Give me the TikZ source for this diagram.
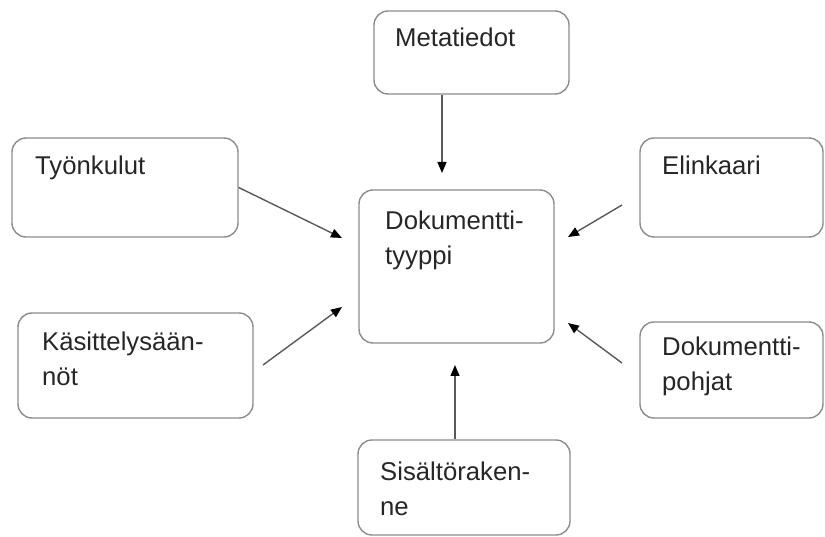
\documentclass[tikz,border=0pt]{standalone}
\usepackage{fontspec}
\setmainfont{Liberation Sans}
\usetikzlibrary{arrows.meta}

\tikzset{
  laatikko/.style={draw=black!45, line width=1.4pt, rounded corners=14pt, inner sep=0pt},
  teksti/.style={anchor=base west, inner sep=0pt, align=left, text=black!85,
    font=\fontsize{25.7}{35}\selectfont},
  nuoli/.style={draw=black!65, line width=1.4pt, -{Triangle[length=11pt,width=9pt,color=black]}}
}

\begin{document}
\begin{tikzpicture}[x=1pt, y=-1pt]
      \useasboundingbox (0,0) rectangle (825,537);
      % laatikot
      \node[laatikko, minimum width=195pt, minimum height=83pt]  (meta) at (471.5, 52.5) {};
      \node[laatikko, minimum width=226pt, minimum height=99pt]  (tyon) at (125, 187.5) {};
      \node[laatikko, minimum width=183pt, minimum height=99pt]  (elin) at (731.5, 187.5) {};
      \node[laatikko, minimum width=195pt, minimum height=153pt] (dok)  at (456.5, 266.5) {};
      \node[laatikko, minimum width=235pt, minimum height=105pt] (kas)  at (135.5, 365.5) {};
      \node[laatikko, minimum width=183pt, minimum height=96pt]  (pohj) at (731.5, 370) {};
      \node[laatikko, minimum width=212pt, minimum height=95pt]  (sis)  at (464, 487.5) {};
      % tekstit (monirivisillä base = viimeisen rivin peruslinja)
      \node[teksti] (meta-t) at (395, 47)  {Metatiedot};
      \node[teksti] (tyon-t) at (35, 175)  {Työnkulut};
      \node[teksti] (elin-t) at (662, 175) {Elinkaari};
      \node[teksti] (dok-t)  at (385, 265) {Dokumentti-\\tyyppi};
      \node[teksti] (kas-t)  at (42, 385)  {Käsittelysään-\\nöt};
      \node[teksti] (pohj-t) at (662, 390) {Dokumentti-\\pohjat};
      \node[teksti] (sis-t)  at (380, 515) {Sisältöraken-\\ne};
      % nuolet
      \coordinate (n-m) at (442, 173);
      \coordinate (n-t) at (342, 238);
      \coordinate (e0)  at (622, 205);
      \coordinate (n-e) at (568, 237);
      \coordinate (k0)  at (263, 365);
      \coordinate (n-k) at (342, 307);
      \coordinate (p0)  at (622, 363);
      \coordinate (n-p) at (568, 323);
      \coordinate (n-s) at (455, 365);
      \draw[nuoli] (meta.south -| n-m) -- (n-m);
      \draw[nuoli] (tyon.east) -- (n-t);
      \draw[nuoli] (e0) -- (n-e);
      \draw[nuoli] (k0) -- (n-k);
      \draw[nuoli] (p0) -- (n-p);
      \draw[nuoli] (sis.north -| n-s) -- (n-s);
\end{tikzpicture}
\end{document}
